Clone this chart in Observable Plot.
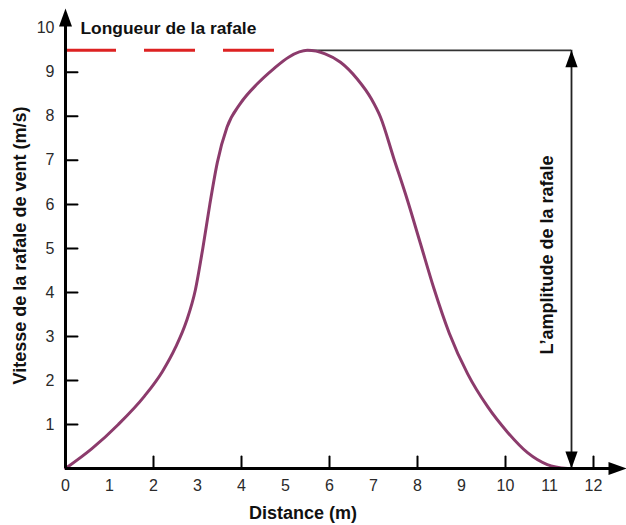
<!DOCTYPE html>
<html>
<head>
<meta charset="utf-8">
<script src="https://cdn.jsdelivr.net/npm/d3@7"></script>
<script src="https://cdn.jsdelivr.net/npm/@observablehq/plot@0.6"></script>
<style>
  html, body { margin: 0; padding: 0; background: #fff; }
  #chart { width: 626px; height: 525px; }
</style>
</head>
<body>
<div id="chart"></div>
<script>
// ---- data ----
const curveX = [0, 0.6, 1.2, 1.8, 2.2, 2.5, 2.75, 2.95, 3.12, 3.28, 3.45, 3.67, 3.98, 4.36, 4.73, 5.08, 5.5,
                5.9, 6.25, 6.63, 6.95, 7.16, 7.46, 7.77, 8.07, 8.37, 8.72, 9.14, 9.59, 10.05, 10.5, 10.95, 11.41];
const curveY = [0, 0.45, 1.0, 1.65, 2.2, 2.75, 3.35, 4.05, 5.0, 6.0, 6.95, 7.75, 8.3, 8.74, 9.08, 9.35, 9.5,
                9.42, 9.23, 8.85, 8.4, 7.98, 7.05, 6.1, 5.1, 4.1, 3.08, 2.15, 1.41, 0.82, 0.36, 0.09, 0];
const xLabels = [0, 1, 2, 3, 4, 5, 6, 7, 8, 9, 10, 11, 12];
const yLabels = [1, 2, 3, 4, 5, 6, 7, 8, 9, 10];
const xTickMarks = [2, 4, 6, 8, 10, 12];
const yTickMarks = [1, 2, 3, 4, 5, 6, 7, 8, 9];
const peakValue = 9.5;
const peakX = 5.5;
const gustLengthEnd = 4.87;  // end of red dashed segment
const amplitudeX = 11.5;     // x of the amplitude arrow
const xMax = 12.75, yMax = 10.45;

const titleText = "Longueur de la rafale";
const amplitudeText = "L\u2019amplitude de la rafale";
const xTitle = "Distance (m)";
const yTitle = "Vitesse de la rafale de vent (m/s)";

const curveData = curveX.map((x, i) => ({x, y: curveY[i]}));

// shapes for vector marks
const tickShape = { draw(ctx, l) { ctx.moveTo(0, 0); ctx.lineTo(0, -l); } };
const headShape = { draw(ctx, l, r) { const w = l * 0.36; ctx.moveTo(0, 0); ctx.lineTo(-w, l); ctx.lineTo(w, l); ctx.closePath(); } };

const font = "'Liberation Sans', Arial, Helvetica, sans-serif";

const chart = Plot.plot({
  width: 626,
  height: 525,
  marginLeft: 65,
  marginRight: 0,
  marginTop: 8,
  marginBottom: 57,
  style: { fontFamily: font, background: "#fff", overflow: "visible" },
  x: { domain: [0, xMax] },
  y: { domain: [0, yMax] },
  marks: [
    // tick labels
    Plot.axisX(xLabels, { tickSize: 0, tickPadding: 11, fontSize: 16, fill: "#2a2a2a", label: null }),
    Plot.axisY(yLabels, { tickSize: 0, tickPadding: 11, fontSize: 16, fill: "#2a2a2a", label: null }),
    // inward tick marks
    Plot.vector(yTickMarks, { x: 0, y: d => d, length: 12, rotate: 90, anchor: "start", shape: tickShape, stroke: "black", strokeWidth: 2 }),
    Plot.vector(xTickMarks, { x: d => d, y: 0, length: 12, rotate: 0, anchor: "start", shape: tickShape, stroke: "black", strokeWidth: 2 }),
    // red dashed gust length
    Plot.ruleY([peakValue], { x1: 0, x2: gustLengthEnd, stroke: "#dd2222", strokeWidth: 3, strokeDasharray: "51,28" }),
    // black horizontal at peak
    Plot.ruleY([peakValue], { x1: peakX, x2: amplitudeX, stroke: "#333", strokeWidth: 1.8 }),
    // amplitude vertical
    Plot.ruleX([amplitudeX], { y1: 0, y2: peakValue, stroke: "#222", strokeWidth: 1.8 }),
    Plot.vector([peakValue], { x: amplitudeX, y: d => d, length: 17, rotate: 0, anchor: "start", shape: headShape, fill: "black", stroke: "none" }),
    Plot.vector([0], { x: amplitudeX, y: d => d, length: 17, rotate: 180, anchor: "start", shape: headShape, fill: "black", stroke: "none" }),
    // curve
    Plot.line(curveData, { x: "x", y: "y", curve: "monotone-x", stroke: "#8c3b6c", strokeWidth: 3 }),
    // axes lines
    Plot.ruleX([0], { y1: 0, y2: yMax - 0.3, stroke: "black", strokeWidth: 3 }),
    Plot.ruleY([0], { x1: 0, x2: xMax - 0.3, stroke: "black", strokeWidth: 3 }),
    Plot.vector([yMax], { x: 0, y: d => d, length: 18, rotate: 0, anchor: "start", shape: headShape, fill: "black", stroke: "none" }),
    Plot.vector([xMax], { x: d => d, y: 0, length: 18, rotate: 90, anchor: "start", shape: headShape, fill: "black", stroke: "none" }),
    // annotations
    Plot.text([titleText], { x: 0.34, y: 10.0, text: d => d, textAnchor: "start", fontSize: 17.4, fontWeight: "bold", fill: "#111" }),
    Plot.text([amplitudeText], { x: 10.95, y: 4.85, text: d => d, rotate: -90, textAnchor: "middle", fontSize: 18, fontWeight: "bold", fill: "#111" }),
    Plot.text([xTitle], { x: 5.4, frameAnchor: "bottom", dy: 50, text: d => d, textAnchor: "middle", fontSize: 18, fontWeight: "bold", fill: "#111" }),
    Plot.text([yTitle], { frameAnchor: "left", dx: -45, dy: 7, text: d => d, rotate: -90, textAnchor: "middle", lineAnchor: "middle", fontSize: 18, fontWeight: "bold", fill: "#111" })
  ]
});

document.getElementById("chart").appendChild(chart);
</script>
</body>
</html>
